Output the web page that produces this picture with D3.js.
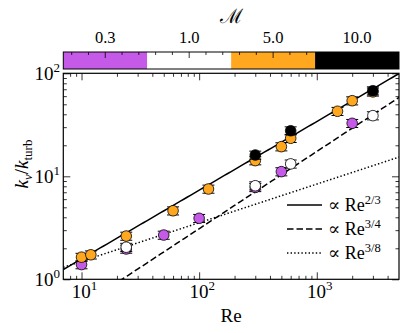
<!DOCTYPE html>
<html>
<head>
<meta charset="utf-8">
<script src="https://cdn.jsdelivr.net/npm/d3@7"></script>
<style>
  body { margin: 0; background: #fff; }
  text { font-family: "Liberation Serif", "DejaVu Serif", serif; fill: #000; }
</style>
</head>
<body>
<div id="chart"></div>
<script>
// Mach number classes (colour bar)
var machLabels = ["0.3", "1.0", "5.0", "10.0"];
var machColors = ["#c65ae8", "#ffffff", "#ffa81f", "#000000"];

// measurements per Mach class: Re and k_nu / k_turb
var reM03 = [10, 24, 50, 100, 300, 500, 2000];
var kM03  = [1.39, 1.97, 2.69, 3.91, 7.8, 11.1, 32.7];
var reM1  = [24, 300, 600, 3000];
var kM1   = [2.05, 8.1, 13.2, 38.8];
var reM5  = [10, 12, 24, 60, 120, 300, 500, 600, 1500, 2000, 3000];
var kM5   = [1.64, 1.73, 2.63, 4.63, 7.53, 14.2, 19.4, 23.4, 42.8, 54.2, 66];
var reM10 = [300, 600, 3000];
var kM10  = [16.1, 27.7, 67.8];

// power-law guides: prefactor and exponent
var fitNames = ["2/3", "3/4", "3/8"];
var fitAmp   = [0.34, 0.098, 0.63];
var fitExp   = [2 / 3, 3 / 4, 3 / 8];
var fitDash  = [null, "6.5,3", "1.4,2.2"];

var xMajor = [10, 100, 1000];
var yMajor = [1, 10, 100];
var errFrac = 0.09;

var width = 407, height = 333;
var pL = 63.3, pR = 399, pT = 73.3, pB = 279.3;

var svg = d3.select('#chart').append('svg')
  .attr('width', width)
  .attr('height', height);

var x = d3.scaleLog().domain([7, 5000]).range([pL, pR]);
var y = d3.scaleLog().domain([1, 100]).range([pB, pT]);

function minors(lo, hi) {
  var out = [];
  for (var d = 1; d <= 1000; d *= 10)
    for (var m = 2; m <= 9; m++)
      if (m * d > lo && m * d < hi) out.push(m * d);
  return out;
}

// ---- colour bar ----
var cbTop = 52, cbH = 17;
var cb = d3.scaleBand().domain(machLabels).range([pL, pR]);
var cbLin = d3.scaleLinear().domain([0, 1]).range([pL, pR]);

svg.selectAll('.cbseg')
  .data(machLabels)
  .enter().append('rect')
  .attr('x', function(d) { return cb(d); })
  .attr('y', cbTop)
  .attr('width', cb.bandwidth())
  .attr('height', cbH)
  .attr('fill', function(d, i) { return machColors[i]; });

var cbTicks = d3.range(1, 40, 2).map(function(i) { return i / 40; });
svg.selectAll('.cbtick')
  .data(cbTicks)
  .enter().append('line')
  .attr('x1', function(d) { return cbLin(d); })
  .attr('x2', function(d) { return cbLin(d); })
  .attr('y1', cbTop)
  .attr('y2', function(d, i) { return cbTop + (i % 5 == 2 ? 6 : 3); })
  .attr('stroke', '#000')
  .attr('stroke-width', 0.8);

svg.append('rect')
  .attr('x', pL).attr('y', cbTop)
  .attr('width', pR - pL).attr('height', cbH)
  .attr('fill', 'none').attr('stroke', '#000').attr('stroke-width', 1);

svg.selectAll('.cblab')
  .data(machLabels)
  .enter().append('text')
  .attr('x', function(d) { return cb(d) + cb.bandwidth() / 2; })
  .attr('y', 43)
  .attr('text-anchor', 'middle')
  .style('font-size', '16.5px')
  .text(function(d) { return d; });

svg.append('text')
  .attr('x', (pL + pR) / 2)
  .attr('y', 23)
  .attr('text-anchor', 'middle')
  .style('font-family', '"DejaVu Serif", serif')
  .style('font-size', '20px')
  .text('\u2133');

// ---- axes (ticks inward on all four sides) ----
function addAxis(axis, tx, ty) {
  svg.append('g')
    .attr('transform', 'translate(' + tx + ',' + ty + ')')
    .call(axis)
    .call(function(g) {
      g.select('.domain').remove();
      g.selectAll('text').remove();
      g.selectAll('line').attr('stroke-width', 0.8);
    });
}
var xMin = minors(7, 5000), yMin = minors(1, 100);
[[d3.axisBottom, pB], [d3.axisTop, pT]].forEach(function(a) {
  addAxis(a[0](x).tickValues(xMajor).tickSize(-7), 0, a[1]);
  addAxis(a[0](x).tickValues(xMin).tickSize(-3.5), 0, a[1]);
});
[[d3.axisLeft, pL], [d3.axisRight, pR]].forEach(function(a) {
  addAxis(a[0](y).tickValues(yMajor).tickSize(-7), a[1], 0);
  addAxis(a[0](y).tickValues(yMin).tickSize(-3.5), a[1], 0);
});

svg.append('rect')
  .attr('x', pL).attr('y', pT)
  .attr('width', pR - pL).attr('height', pB - pT)
  .attr('fill', 'none').attr('stroke', '#000').attr('stroke-width', 1.2);

function powLabel(sel, exp) {
  sel.append('tspan').text('10');
  sel.append('tspan').attr('dy', -8).style('font-size', '13px').text(exp);
}
svg.selectAll('.xlab')
  .data(xMajor)
  .enter().append('text')
  .attr('x', function(d) { return x(d) + 3; })
  .attr('y', 298)
  .attr('text-anchor', 'middle')
  .style('font-size', '19px')
  .each(function(d) { powLabel(d3.select(this), Math.round(Math.log10(d))); });

svg.selectAll('.ylab')
  .data(yMajor)
  .enter().append('text')
  .attr('x', 60)
  .attr('y', function(d) { return y(d) + 7; })
  .attr('text-anchor', 'end')
  .style('font-size', '19px')
  .each(function(d) { powLabel(d3.select(this), Math.round(Math.log10(d))); });

svg.append('text')
  .attr('x', (pL + pR) / 2)
  .attr('y', 322)
  .attr('text-anchor', 'middle')
  .style('font-size', '19px')
  .text('Re');

var yl = svg.append('text')
  .attr('transform', 'translate(28,164) rotate(-90)')
  .attr('text-anchor', 'middle')
  .style('font-size', '19px');
yl.append('tspan').style('font-style', 'italic').text('k');
yl.append('tspan').attr('dy', 4).style('font-size', '13px').style('font-style', 'italic').text('\u03bd');
yl.append('tspan').attr('dy', -4).text('/');
yl.append('tspan').style('font-style', 'italic').text('k');
yl.append('tspan').attr('dy', 4).style('font-size', '13px').text('turb');

// ---- power-law guide lines ----
var plot = svg.append('g');
plot.append('clipPath').attr('id', 'clip')
  .append('rect').attr('x', pL).attr('y', pT)
  .attr('width', pR - pL).attr('height', pB - pT);

var reGrid = d3.range(0, 101).map(function(i) {
  return 7 * Math.pow(5000 / 7, i / 100);
});
var line = d3.line()
  .x(function(d) { return x(d[0]); })
  .y(function(d) { return y(d[1]); });

fitNames.forEach(function(n, i) {
  plot.append('path')
    .attr('clip-path', 'url(#clip)')
    .attr('d', line(reGrid.map(function(r) { return [r, fitAmp[i] * Math.pow(r, fitExp[i])]; })))
    .attr('fill', 'none')
    .attr('stroke', '#000')
    .attr('stroke-width', 1.5)
    .attr('stroke-dasharray', fitDash[i]);
});

// ---- data points with error bars ----
var series = [[reM03, kM03], [reM1, kM1], [reM5, kM5], [reM10, kM10]];
series.forEach(function(s, si) {
  var pts = s[0].map(function(r, j) { return { re: r, k: s[1][j] }; });
  var g = plot.append('g');
  var eb = g.selectAll('.eb').data(pts).enter().append('g')
    .attr('stroke', '#000').attr('stroke-width', 1);
  eb.append('line')
    .attr('x1', function(d) { return x(d.re); })
    .attr('x2', function(d) { return x(d.re); })
    .attr('y1', function(d) { return y(d.k * (1 - errFrac)); })
    .attr('y2', function(d) { return y(d.k * (1 + errFrac)); });
  [1 - errFrac, 1 + errFrac].forEach(function(f) {
    eb.append('line')
      .attr('x1', function(d) { return x(d.re) - 6; })
      .attr('x2', function(d) { return x(d.re) + 6; })
      .attr('y1', function(d) { return y(d.k * f); })
      .attr('y2', function(d) { return y(d.k * f); });
  });
  g.selectAll('circle').data(pts).enter().append('circle')
    .attr('cx', function(d) { return x(d.re); })
    .attr('cy', function(d) { return y(d.k); })
    .attr('r', 5.3)
    .attr('fill', machColors[si])
    .attr('stroke', '#000')
    .attr('stroke-width', 0.8);
});

// ---- legend ----
var legend = svg.selectAll('.legend')
  .data(fitNames)
  .enter().append('g')
  .attr('class', 'legend')
  .attr('transform', function(d, i) { return 'translate(287,' + (205 + i * 24) + ')'; });

legend.append('line')
  .attr('x1', 0).attr('x2', 35)
  .attr('stroke', '#000')
  .attr('stroke-width', 1.5)
  .attr('stroke-dasharray', function(d, i) { return fitDash[i]; });

legend.append('text')
  .attr('x', 41)
  .attr('y', 5.5)
  .style('font-size', '18px')
  .each(function(d) {
    var t = d3.select(this);
    t.append('tspan').text('\u221d Re');
    t.append('tspan').attr('dy', -7).style('font-size', '12.5px').text(d);
  });
</script>
</body>
</html>
